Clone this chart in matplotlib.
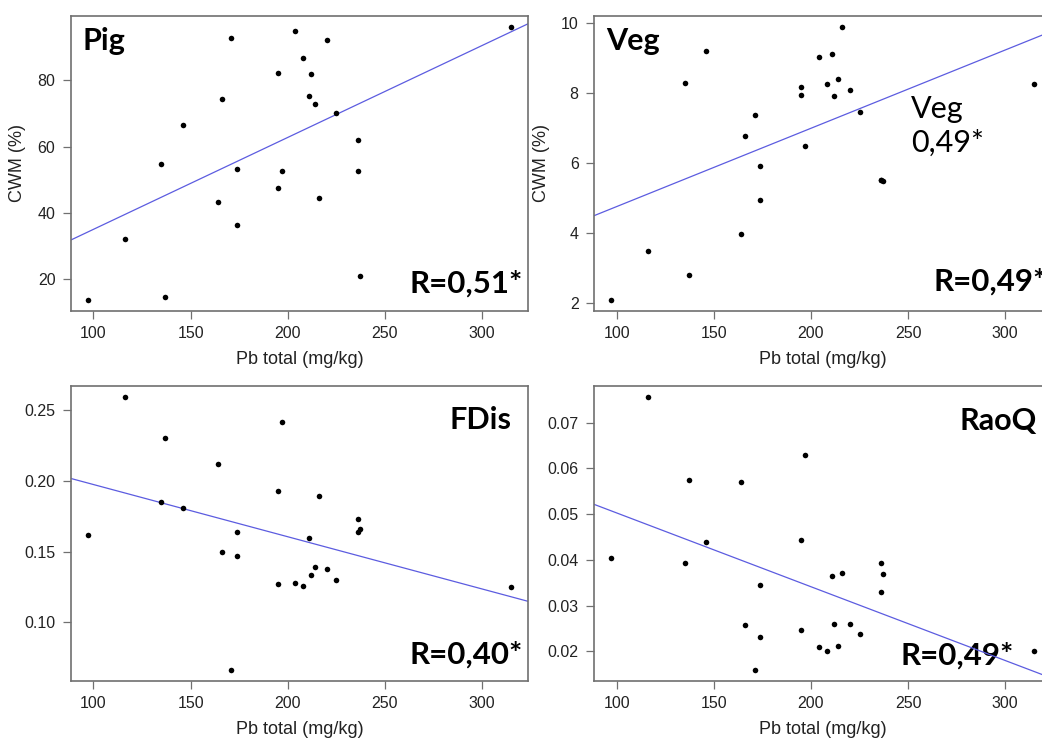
import numpy as np
import matplotlib
matplotlib.use("Agg")
import matplotlib.pyplot as plt

plt.rcParams['font.family'] = ['Liberation Sans', 'DejaVu Sans']

# ========== 数据 ==========
# Pb total (mg/kg)，四个面板共用
PB_TOTAL = [97, 116, 135, 137, 146, 164, 166, 171, 174, 174, 195, 195, 197,
            204, 208, 211, 212, 214, 216, 220, 225, 236, 236, 237, 315]

PIG = [13.8, 32.3, 54.7, 14.7, 66.6, 43.3, 74.2, 92.8, 53.1, 36.5, 82.0, 47.5, 52.5,
       94.9, 86.6, 75.1, 81.8, 72.7, 44.6, 92.0, 70.1, 62.0, 52.7, 20.9, 96.0]
VEG = [2.09, 3.48, 8.29, 2.80, 9.21, 3.97, 6.77, 7.38, 5.92, 4.95, 8.17, 7.96, 6.50,
       9.04, 8.27, 9.12, 7.93, 8.40, 9.89, 8.08, 7.47, 5.52, 5.52, 5.48, 8.25]
FDIS = [0.1618, 0.2594, 0.1854, 0.2302, 0.1807, 0.2118, 0.1495, 0.0663, 0.1639, 0.1467,
        0.1927, 0.1269, 0.2417, 0.1281, 0.1259, 0.1594, 0.1333, 0.1394, 0.1892, 0.1375,
        0.1302, 0.1729, 0.1639, 0.1660, 0.1248]
RAOQ = [0.0404, 0.0756, 0.0392, 0.0575, 0.0438, 0.0569, 0.0258, 0.0159, 0.0346, 0.0231,
        0.0443, 0.0247, 0.0629, 0.0209, 0.0200, 0.0365, 0.0259, 0.0212, 0.0371, 0.0259,
        0.0238, 0.0392, 0.0329, 0.0368, 0.0200]

PANEL_NAMES = ["Pig", "Veg", "FDis", "RaoQ"]
R_LABELS = ["R=0,51*", "R=0,49*", "R=0,40*", "R=0,49*"]
Y_TICKS = [[20, 40, 60, 80],
           [2, 4, 6, 8, 10],
           [0.10, 0.15, 0.20, 0.25],
           [0.02, 0.03, 0.04, 0.05, 0.06, 0.07]]
Y_FMT = ["{:.0f}", "{:.0f}", "{:.2f}", "{:.2f}"]
X_TICKS = [100, 150, 200, 250, 300]

# ========== 画布 ==========
W, H = 1042, 738
fig = plt.figure(figsize=(W / 100, H / 100), dpi=100)

# 每个面板的像素位置 (左, 上, 宽, 高)，右侧面板超出画布被裁掉
boxes = [(70.7, 16, 457.3, 295), (594, 16, 457.3, 295),
         (70.7, 386, 457.3, 295), (594, 386, 457.3, 295)]

# 面板名位置、R 标签位置 (axes 坐标)
name_pos = [(0.025, 0.885), (0.026, 0.885), (0.829, 0.854), (0.80, 0.85)]
r_pos = [(0.74, 0.064), (0.743, 0.07), (0.74, 0.058), (0.671, 0.054)]

series = [PIG, VEG, FDIS, RAOQ]
GRAY = '#707070'
LINE_BLUE = '#5c5ce0'
BIG_FONT = ['Lato', 'DejaVu Sans']

for i, ys in enumerate(series):
    l, t, w, h = boxes[i]
    ax = fig.add_axes([l / W, 1 - (t + h) / H, w / W, h / H])
    x = np.array(PB_TOTAL, dtype=float)
    y = np.array(ys, dtype=float)

    ax.plot(x, y, 'o', color='black', markersize=4, markeredgewidth=0, zorder=3)
    ax.margins(x=0.04, y=0.04)
    x0, x1 = ax.get_xlim()
    y0, y1 = ax.get_ylim()

    # 线性回归线
    slope, intercept = np.polyfit(x, y, 1)
    xx = np.array([x0, x1])
    ax.plot(xx, intercept + slope * xx, color=LINE_BLUE, linewidth=0.9, zorder=2)
    ax.set_xlim(x0, x1)
    ax.set_ylim(y0, y1)

    ax.set_xticks(X_TICKS)
    ax.set_xticklabels([str(v) for v in X_TICKS])
    ax.set_yticks(Y_TICKS[i])
    ax.set_yticklabels([Y_FMT[i].format(v) for v in Y_TICKS[i]])
    ax.tick_params(direction='out', length=6, width=0.9, color=GRAY,
                   labelsize=11.5, labelcolor='#222222', pad=5)
    for sp in ax.spines.values():
        sp.set_color(GRAY)
        sp.set_linewidth(1.2)

    ax.set_xlabel("Pb total (mg/kg)", fontsize=13, color='#222222', labelpad=7)
    if i < 2:
        ax.set_ylabel("CWM (%)", fontsize=13, color='#222222', labelpad=8)

    nx, ny = name_pos[i]
    ax.text(nx, ny, PANEL_NAMES[i], transform=ax.transAxes, ha='left', va='baseline',
            fontsize=22, fontweight='bold', family=BIG_FONT)
    rx, ry = r_pos[i]
    ax.text(rx, ry, R_LABELS[i], transform=ax.transAxes, ha='left', va='baseline',
            fontsize=22.5, fontweight='bold', family=BIG_FONT, zorder=1)

    if i == 1:
        ax.text(0.693, 0.539, "Veg\n0,49*", transform=ax.transAxes, ha='left',
                va='baseline', fontsize=22, linespacing=1.25, family=BIG_FONT)

fig.savefig("out.png", dpi=100)
